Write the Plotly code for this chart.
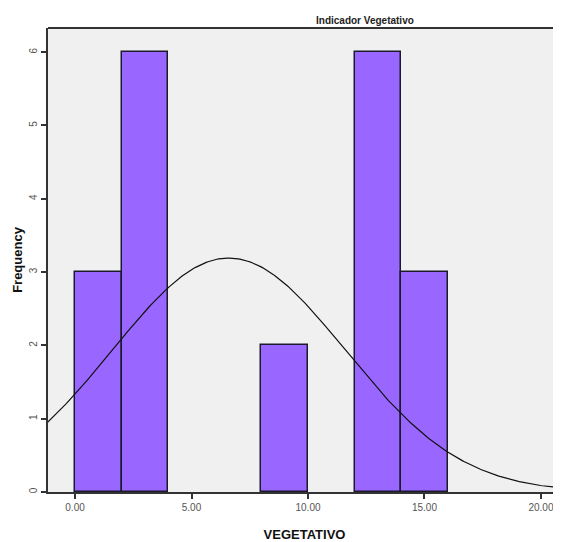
import numpy as np
import plotly.graph_objects as go

# Histogram data (bins of width 2)
bin_starts = [0, 2, 8, 12, 14]
frequencies = [3, 6, 2, 6, 3]
bin_width = 2

# Normal curve parameters (fitted)
mean_val = 6.6
sd_val = 5.0
n_total = 20

x_ticks = [0, 5, 10, 15, 20]
y_ticks = [0, 1, 2, 3, 4, 5, 6]

centers = [s + bin_width / 2 for s in bin_starts]

xc = np.linspace(-1.2, 21.5, 300)
yc = n_total * bin_width / (sd_val * np.sqrt(2 * np.pi)) * np.exp(-(xc - mean_val) ** 2 / (2 * sd_val ** 2))

fig = go.Figure()
fig.add_trace(go.Bar(
    x=centers, y=frequencies, width=[bin_width] * len(centers),
    marker=dict(color="#9966FF", line=dict(color="#1a1a2a", width=1.5)),
    showlegend=False,
))
fig.add_trace(go.Scatter(
    x=xc, y=yc, mode="lines", line=dict(color="#111111", width=1.2),
    showlegend=False,
))

font_family = "Liberation Sans, Arial, sans-serif"
# page body has an 8px margin, so the figure is sized/offset to compensate
fig.update_layout(
    width=553, height=534,
    margin=dict(l=40, r=0, t=20, b=50, autoexpand=False),
    paper_bgcolor="white",
    plot_bgcolor="#F0F0F0",
    font=dict(family=font_family, size=10, color="#333333"),
    bargap=0,
    annotations=[
        dict(text="<b>Indicador Vegetativo</b>", xref="x domain", yref="y domain",
             x=(365 - 48) / 513, y=1.0, yanchor="bottom", xanchor="center",
             showarrow=False, font=dict(size=10, color="#222222")),
    ],
)
fig.update_xaxes(
    range=[-1.16, 20.86], tickvals=x_ticks, tickformat=".2f",
    ticks="outside", ticklen=5, tickcolor="#333333", tickwidth=1.5,
    showgrid=False, zeroline=False, automargin=False,
    showline=True, linecolor="#333333", linewidth=2, mirror=False,
    tickfont=dict(size=10, color="#555555"),
    title=dict(text="<b>VEGETATIVO</b>", font=dict(size=13, color="#111111"), standoff=18),
)
fig.update_yaxes(
    range=[0, 6.33], tickvals=y_ticks, tickangle=-90,
    ticks="outside", ticklen=5, tickcolor="#333333", tickwidth=1.5,
    showgrid=False, zeroline=False, automargin=False,
    showline=True, linecolor="#333333", linewidth=2,
    tickfont=dict(size=10, color="#555555"),
    title=dict(text="<b>Frequency</b>", font=dict(size=13, color="#111111"), standoff=2),
)
# top border line
fig.add_shape(type="line", xref="paper", yref="paper", x0=0, x1=1, y0=1, y1=1,
              line=dict(color="#333333", width=2))

fig.write_html("out.html")
